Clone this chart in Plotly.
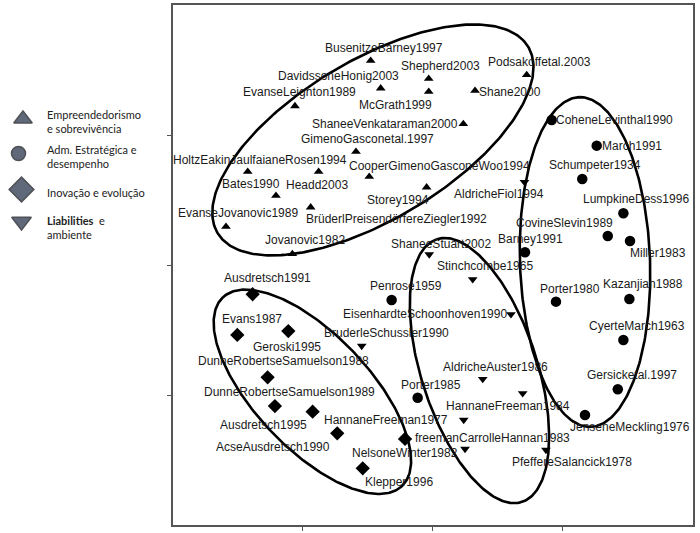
import numpy as np
import plotly.graph_objects as go

# ---------------- data (MDS coordinates) ----------------
emp_names = ["BusenitzeBarney1997", "Shepherd2003", "Podsakoffetal.2003", "DavidssoneHonig2003",
             "EvanseLeighton1989", "McGrath1999", "Shane2000", "ShaneeVenkataraman2000",
             "GimenoGasconetal.1997", "HoltzEakinJaulfaianeRosen1994", "CooperGimenoGasconeWoo1994",
             "Bates1990", "Headd2003", "Storey1994", "BrüderlPreisendörfereZiegler1992",
             "EvanseJovanovic1989", "Jovanovic1982"]
emp_x = [-0.477, -0.031, 0.722, -0.400, -1.059, -0.031, 0.325, 0.235, -0.590, -1.422, -0.488,
         -1.205, -0.877, -0.047, -0.938, -1.589, -1.079]
emp_y = [1.572, 1.433, 1.462, 1.359, 1.223, 1.333, 1.341, 1.085, 0.872, 0.718, 0.679,
         0.533, 0.718, 0.598, 0.444, 0.295, 0.085]

adm_names = ["CoheneLevinthal1990", "March1991", "Schumpeter1934", "LumpkineDess1996",
             "CovineSlevin1989", "Miller1983", "Barney1991", "Porter1980", "Kazanjian1988",
             "CyerteMarch1963", "Gersicketal.1997", "JenseneMeckling1976", "Penrose1959", "Porter1985"]
adm_x = [0.914, 1.260, 1.149, 1.465, 1.345, 1.516, 0.709, 0.947, 1.511, 1.465, 1.422, 1.170, -0.316, -0.116]
adm_y = [1.115, 0.918, 0.662, 0.398, 0.223, 0.185, 0.098, -0.282, -0.262, -0.577, -0.956, -1.154, -0.269, -1.021]

inov_names = ["Ausdretsch1991", "Evans1987", "Geroski1995", "DunneRobertseSamuelson1988",
              "DunneRobertseSamuelson1989", "Ausdretsch1995", "AcseAusdretsch1990",
              "NelsoneWinter1982", "Klepper1996"]
inov_x = [-1.384, -1.502, -1.110, -1.269, -1.213, -0.923, -0.734, -0.213, -0.538]
inov_y = [-0.225, -0.538, -0.508, -0.864, -1.085, -1.128, -1.295, -1.338, -1.564]

liab_names = ["AldricheFiol1994", "ShaneeStuart2002", "Stinchcombe1965", "EisenhardteSchoonhoven1990",
              "BruderleSchussler1990", "AldricheAuster1986", "HannaneFreeman1984", "HannaneFreeman1977",
              "freemanCarrolleHannan1983", "PfeffereSalancick1978"]
liab_x = [0.705, -0.027, 0.307, 0.601, -0.546, 0.384, 0.691, 0.238, 0.248, 0.870]
liab_y = [0.638, 0.081, -0.110, -0.379, -0.623, -0.877, -0.987, -1.192, -1.415, -1.423]

category_labels = ["Empreendedorismo<br>e sobrevivência", "Adm. Estratégica e<br>desempenho",
                   "Inovação e evolução", "<b>Liabilities</b>  e<br>ambiente"]
axis_ticks = [-1, 0, 1]

# ---------------- layout helpers (label offsets in px, dx right / dy up) ----------------
label_offsets = {
    "BusenitzeBarney1997": (13, 13), "Shepherd2003": (12, 13), "Podsakoffetal.2003": (13, 13),
    "DavidssoneHonig2003": (-42, 12), "EvanseLeighton1989": (5, 14), "McGrath1999": (-33, -13),
    "Shane2000": (35, -1), "ShaneeVenkataraman2000": (-78, 0), "GimenoGasconetal.1997": (12, 13),
    "HoltzEakinJaulfaianeRosen1994": (12, 12), "CooperGimenoGasconeWoo1994": (70, 11),
    "Bates1990": (-25, 12), "Headd2003": (-2, -13), "Storey1994": (-29, -13),
    "BrüderlPreisendörfereZiegler1992": (86, -12), "EvanseJovanovic1989": (12, 14),
    "Jovanovic1982": (13, 14),
    "CoheneLevinthal1990": (63, 0), "March1991": (35, 0), "Schumpeter1934": (13, 14),
    "LumpkineDess1996": (13, 14), "CovineSlevin1989": (-43, 13), "Miller1983": (28, -12),
    "Barney1991": (5, 13), "Porter1980": (14, 13), "Kazanjian1988": (14, 15),
    "CyerteMarch1963": (14, 14), "Gersicketal.1997": (14, 14), "JenseneMeckling1976": (45, -12),
    "Penrose1959": (14, 14), "Porter1985": (13, 13),
    "Ausdretsch1991": (15, 16), "Evans1987": (15, 16), "Geroski1995": (-1, -16),
    "DunneRobertseSamuelson1988": (16, 16), "DunneRobertseSamuelson1989": (15, 14),
    "Ausdretsch1995": (-49, -13), "AcseAusdretsch1990": (-64, -14), "NelsoneWinter1982": (0, -14),
    "Klepper1996": (36, -14),
    "AldricheFiol1994": (-25, -12), "ShaneeStuart2002": (12, 10), "Stinchcombe1965": (12, 13),
    "EisenhardteSchoonhoven1990": (-86, 0), "BruderleSchussler1990": (25, 13),
    "AldricheAuster1986": (13, 12), "HannaneFreeman1984": (-15, -13), "HannaneFreeman1977": (-78, 0),
    "freemanCarrolleHannan1983": (27, 11), "PfeffereSalancick1978": (26, -12),
}

# cluster ellipses: (cx, cy, semi-major, semi-minor, angle deg) in axis units
ellipse_specs = [
    (-0.460, 0.962, 1.392, 0.612, 31.0),
    (1.170, 0.023, 1.269, 0.500, 92.0),
    (0.359, -0.812, 1.062, 0.446, 107.9),
    (-0.925, -0.975, 1.000, 0.440, 133.5),
]

W, H = 700, 533
fig = go.Figure()

# ellipses
t = np.linspace(0, 2 * np.pi, 300)
for cx, cy, a, b, ang in ellipse_specs:
    th = np.deg2rad(ang)
    ex = cx + a * np.cos(t) * np.cos(th) - b * np.sin(t) * np.sin(th)
    ey = cy + a * np.cos(t) * np.sin(th) + b * np.sin(t) * np.cos(th)
    fig.add_trace(go.Scatter(x=ex, y=ey, mode="lines", line=dict(color="black", width=2.6),
                             hoverinfo="skip", showlegend=False))

groups = [
    (emp_names, emp_x, emp_y, "triangle-up", 8.5),
    (adm_names, adm_x, adm_y, "circle", 10.5),
    (inov_names, inov_x, inov_y, "diamond", 11),
    (liab_names, liab_x, liab_y, "triangle-down", 8.5),
]
annotations = []
label_font = dict(family="Liberation Sans, Arial, sans-serif", size=12, color="#1a1a1a")
for (names, xs, ys, sym, size), cat in zip(groups, category_labels):
    fig.add_trace(go.Scatter(x=xs, y=ys, mode="markers", text=names,
                             name=cat.replace("<br>", " "),
                             marker=dict(symbol=sym, size=size, color="black", line=dict(width=0)),
                             showlegend=False))
    for n, x, y in zip(names, xs, ys):
        dx, dy = label_offsets[n]
        annotations.append(dict(x=x, y=y, xref="x", yref="y", text=n, showarrow=False,
                                xshift=dx, yshift=dy, xanchor="center", yanchor="middle",
                                font=label_font))

# manual legend on an overlay pixel axis (left margin area)
legend_layout = [  # symbol, symbol x, symbol y, size, text y
    ("triangle-up", 23, 119, 16, 121.5),
    ("circle", 18.5, 153.5, 14, 156.5),
    ("diamond", 21.5, 189.5, 19, 192),
    ("triangle-down", 21.5, 221.5, 17, 227),
]
fig.add_trace(go.Scatter(
    x=[l[1] for l in legend_layout], y=[l[2] for l in legend_layout],
    xaxis="x2", yaxis="y2", mode="markers", hoverinfo="skip", showlegend=False,
    marker=dict(symbol=[l[0] for l in legend_layout], size=[l[3] for l in legend_layout],
                color="#1c2a42", line=dict(color="#05080f", width=1.5))))
for (sym, sx, sy, ss, ty), cat in zip(legend_layout, category_labels):
    annotations.append(dict(x=45, y=ty, xref="x2", yref="y2", text=cat, showarrow=False,
                            xanchor="left", yanchor="middle", align="left",
                            font=dict(family="Lato, Open Sans, sans-serif", size=11, color="#222")))

x0, x1, y_top, y_bot = 172.5, 693.0, 5.0, 525.0
fig.update_layout(
    width=W, height=H, margin=dict(l=0, r=0, t=0, b=0),
    paper_bgcolor="white", plot_bgcolor="white",
    annotations=annotations,
    xaxis=dict(domain=[x0 / W, x1 / W], range=[-2, 2], tickvals=axis_ticks, ticks="outside",
               ticklen=4, tickcolor="#555", showticklabels=False, showgrid=False, zeroline=False,
               showline=True, mirror=True, linecolor="#555", linewidth=1.5),
    yaxis=dict(domain=[(H - y_bot) / H, (H - y_top) / H], range=[-2, 2], tickvals=axis_ticks,
               ticks="outside", ticklen=4, tickcolor="#555", showticklabels=False, showgrid=False,
               zeroline=False, showline=True, mirror=True, linecolor="#555", linewidth=1.5),
    xaxis2=dict(domain=[0, 168 / W], range=[0, 168], visible=False, fixedrange=True, anchor="y2"),
    yaxis2=dict(domain=[0, 1], range=[H, 0], visible=False, fixedrange=True, anchor="x2"),
)
fig.write_html("out.html", config={"displayModeBar": False},
               post_script="document.body.style.margin='0';document.body.style.overflow='hidden';")
